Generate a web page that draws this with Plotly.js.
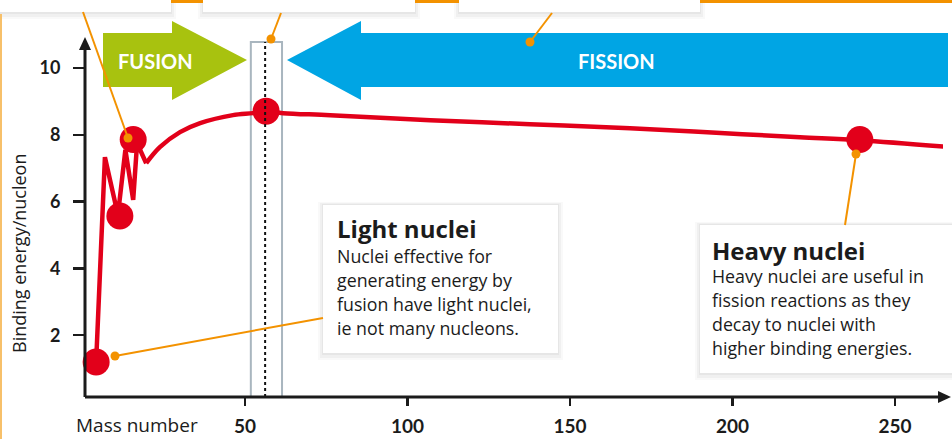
<!DOCTYPE html>
<html>
<head>
<meta charset="utf-8">
<script src="https://cdn.plot.ly/plotly-3.0.1.min.js"></script>
<style>
html,body{margin:0;padding:0;background:#fff;}
#chart{width:952px;height:439px;}
</style>
</head>
<body>
<div id="chart"></div>
<script>
// ---- data ----
const massNumber = [4.2, 6.9, 10.9, 13.2, 15.6, 16.8, 19.6, 23.8, 30, 36.2, 46.3, 52.5, 56.5, 61.7, 76.2, 107, 137.7, 168.5, 195, 220.8, 239.2, 265];
const bindingEnergy = [1.2, 7.33, 5.6, 7.55, 6.05, 7.75, 7.15, 7.63, 8.08, 8.35, 8.59, 8.65, 8.71, 8.65, 8.59, 8.44, 8.32, 8.2, 8.06, 7.93, 7.84, 7.65];
const keyMass = [4.2, 11.5, 15.6, 56.5, 239.2];
const keyEnergy = [1.2, 5.57, 7.86, 8.71, 7.86];
const xTickVals = [50, 100, 150, 200, 250];
const yTickVals = [2, 4, 6, 8, 10];
const ironMass = 56.2;
const ironBand = [51.8, 61.4];

const lightTitle = 'Light nuclei';
const lightLines = ['Nuclei effective for', 'generating energy by', 'fusion have light nuclei,', 'ie not many nucleons.'];
const heavyTitle = 'Heavy nuclei';
const heavyLines = ['Heavy nuclei are useful in', 'fission reactions as they', 'decay to nuclei with', 'higher binding energies.'];

// index where the jagged light-nuclei part ends and the smooth curve begins
const SMOOTH_FROM = 6;

// ---- layout geometry ----
const W = 952, H = 439, ML = 85, MR = 9, MT = 40, MB = 42;
const XR = [0.77, 264.8], YR = [0.15, 10.84];
const PW = W - ML - MR, PH = H - MT - MB;
const px = v => (v - ML) / PW;              // pixel x -> paper
const py = v => (H - MB - v) / PH;          // pixel y -> paper
const dx = v => (v - XR[0]) / (XR[1] - XR[0]); // data x -> paper

const RED = '#e2001a', ORANGE = '#f39200', GREEN = '#a8c20f', BLUE = '#00a5e4', INK = '#1b1b1b';
const FONT = '"Open Sans", Lato, sans-serif';
const TICKFONT = 'Lato, "Open Sans", sans-serif';

const shapes = [];
function rectPx(x0, y0, x1, y1, fill, line, layer) {
  shapes.push({type: 'rect', xref: 'paper', yref: 'paper', x0: px(x0), x1: px(x1), y0: py(y0), y1: py(y1),
    fillcolor: fill, line: line || {width: 0}, layer: layer || 'above'});
}
function shadowBox(x0, y0, x1, y1) {
  rectPx(x0 - 5, y0 - 3, x1 + 5, y1 + 7, 'rgba(0,0,0,0.025)', null, 'below');
  rectPx(x0 - 3, y0 - 2, x1 + 3, y1 + 5, 'rgba(0,0,0,0.035)', null, 'below');
  rectPx(x0 - 1, y0 - 1, x1 + 1, y1 + 2, 'rgba(0,0,0,0.04)', null, 'below');
  rectPx(x0, y0, x1, y1, '#ffffff', null, 'below');
}
function pathPx(pts, fill, layer) {
  const d = pts.map((p, i) => (i ? 'L' : 'M') + px(p[0]).toFixed(5) + ',' + py(p[1]).toFixed(5)).join(' ') + ' Z';
  shapes.push({type: 'path', xref: 'paper', yref: 'paper', path: d, fillcolor: fill, line: {width: 0}, layer: layer || 'below'});
}
function linePx(x0, y0, x1, y1, color, width, dash, layer) {
  shapes.push({type: 'line', xref: 'paper', yref: 'paper', x0: px(x0), y0: py(y0), x1: px(x1), y1: py(y1),
    line: {color: color, width: width, dash: dash || 'solid'}, layer: layer || 'above'});
}
function dotPx(cx, cy, r, color) {
  shapes.push({type: 'circle', xref: 'paper', yref: 'paper', x0: px(cx - r), x1: px(cx + r), y0: py(cy + r), y1: py(cy - r),
    fillcolor: color, line: {width: 0}, layer: 'above'});
}

// top strip: cut-off caption boxes with orange accents
shadowBox(-10, -10, 171, 12);
shadowBox(203, -10, 415, 12);
shadowBox(459, -10, 700, 12);
rectPx(171, 0, 203, 3, ORANGE, null, 'above');
rectPx(415, 0, 459, 3, ORANGE, null, 'above');
rectPx(700, 0, 952, 3, ORANGE, null, 'above');
linePx(1, 14, 1, 439, '#f7c06a', 2, 'solid', 'below');

// FUSION arrow (green) and FISSION arrow (blue)
pathPx([[103, 33], [172, 33], [172, 21], [247, 60], [172, 100], [172, 87], [103, 87]], GREEN);
pathPx([[287, 60], [361, 21], [361, 33], [948, 33], [948, 87], [361, 87], [361, 100]], BLUE);

// iron band box + dotted line
shapes.push({type: 'rect', xref: 'paper', yref: 'paper', x0: dx(ironBand[0]), x1: dx(ironBand[1]), y0: 0, y1: py(42),
  line: {color: '#a9b6bf', width: 2}, fillcolor: 'rgba(0,0,0,0)', layer: 'below'});
shapes.push({type: 'line', xref: 'paper', yref: 'paper', x0: dx(ironMass), x1: dx(ironMass), y0: 0, y1: py(42),
  line: {color: '#111', width: 2, dash: 'dot'}, layer: 'above'});

// caption boxes
shadowBox(323, 205, 558, 353);
shadowBox(700, 225, 960, 373);

// axes with arrowheads
linePx(85, 397, 940, 397, INK, 3, 'solid', 'above');
pathPx([[951, 397], [938, 391], [938, 403]], INK, 'above');
linePx(85, 397, 85, 48, INK, 3, 'solid', 'above');
pathPx([[85, 37], [79, 50], [91, 50]], INK, 'above');

// orange leader lines
linePx(83, 12, 128, 138, ORANGE, 2);
linePx(281, 13, 271, 39, ORANGE, 2);
linePx(552, 13, 530, 42, ORANGE, 2);
linePx(856, 154, 845, 225, ORANGE, 2);
linePx(115, 356, 323, 318, ORANGE, 2);
dotPx(128, 138, 4.5, ORANGE);
dotPx(271, 39, 4.5, ORANGE);
dotPx(530, 42, 4.5, ORANGE);
dotPx(856, 154, 4.5, ORANGE);
dotPx(115, 356, 4.5, ORANGE);

const annotations = [];
function textPx(x, baseline, txt, size, opts) {
  opts = opts || {};
  annotations.push(Object.assign({
    xref: 'paper', yref: 'paper', x: px(x), y: py(baseline - size * 0.33), text: txt, showarrow: false,
    xanchor: 'left', yanchor: 'middle', align: 'left', borderpad: 0,
    font: {family: opts.family || FONT, size: size, color: opts.color || INK, weight: opts.weight || 'normal'}
  }, opts.extra || {}));
}
textPx(336, 236.5, lightTitle, 24, {weight: 'bold'});
lightLines.forEach((t, i) => textPx(336, 261.5 + 24 * i, t, 17.8));
textPx(711, 258.3, heavyTitle, 24, {weight: 'bold'});
heavyLines.forEach((t, i) => textPx(711, 281.7 + 24 * i, t, 17.8));
annotations.push({xref: 'paper', yref: 'paper', x: px(155), y: py(61), text: 'FUSION', showarrow: false,
  xanchor: 'center', yanchor: 'middle', font: {family: TICKFONT, size: 20, color: '#fff', weight: 'bold'}});
annotations.push({xref: 'paper', yref: 'paper', x: px(616), y: py(61), text: 'FISSION', showarrow: false,
  xanchor: 'center', yanchor: 'middle', font: {family: TICKFONT, size: 20, color: '#fff', weight: 'bold'}});
textPx(75, 431, 'Mass number', 19);
annotations.push({xref: 'paper', yref: 'paper', x: px(19), y: py(254), text: 'Binding energy/nucleon', showarrow: false,
  textangle: -90, xanchor: 'center', yanchor: 'middle', font: {family: FONT, size: 18, color: INK}});

const jagX = massNumber.slice(0, SMOOTH_FROM + 1), jagY = bindingEnergy.slice(0, SMOOTH_FROM + 1);
const smX = massNumber.slice(SMOOTH_FROM), smY = bindingEnergy.slice(SMOOTH_FROM);

const traces = [
  {x: jagX, y: jagY, type: 'scatter', mode: 'lines', line: {color: RED, width: 4.5, shape: 'linear'},
   hoverinfo: 'skip', cliponaxis: false},
  {x: smX, y: smY, type: 'scatter', mode: 'lines', line: {color: RED, width: 4.5, shape: 'spline', smoothing: 1},
   hoverinfo: 'skip', cliponaxis: false},
  {x: keyMass, y: keyEnergy, type: 'scatter', mode: 'markers', marker: {color: RED, size: 27, line: {width: 0}},
   hoverinfo: 'skip', cliponaxis: false}
];

const layout = {
  width: W, height: H, margin: {l: ML, r: MR, t: MT, b: MB, pad: 0},
  paper_bgcolor: '#ffffff', plot_bgcolor: 'rgba(0,0,0,0)', showlegend: false,
  xaxis: {range: XR, tickvals: xTickVals, ticktext: xTickVals.map(String), ticks: 'outside', ticklen: 8, tickwidth: 2.5,
    tickcolor: INK, showgrid: false, zeroline: false, showline: false, ticklabelstandoff: 4,
    tickfont: {family: TICKFONT, size: 19, color: INK, weight: 'bold'}, fixedrange: true},
  yaxis: {range: YR, tickvals: yTickVals, ticktext: yTickVals.map(String), ticks: 'outside', ticklen: 11, tickwidth: 2.5,
    tickcolor: INK, showgrid: false, zeroline: false, showline: false, ticklabelstandoff: 9,
    tickfont: {family: TICKFONT, size: 18, color: INK, weight: 'bold'}, fixedrange: true},
  shapes: shapes, annotations: annotations
};

Plotly.newPlot('chart', traces, layout, {displayModeBar: false, staticPlot: true});
</script>
</body>
</html>
